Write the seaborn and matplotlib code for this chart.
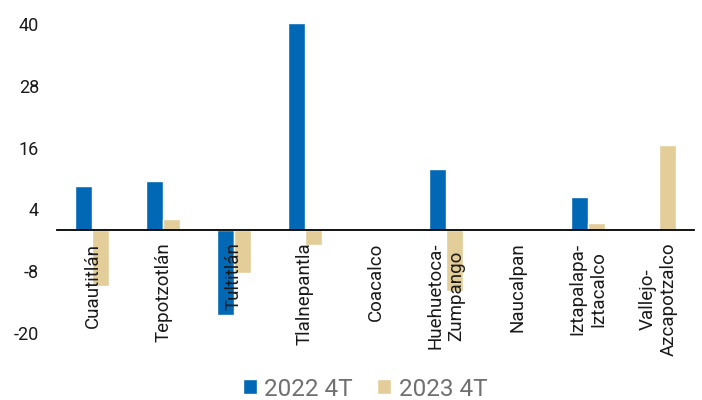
import matplotlib
matplotlib.use("Agg")
import matplotlib.pyplot as plt
import seaborn as sns
import pandas as pd

categories = ["Cuautitlán", "Tepotzotlán", "Tultitlán", "Tlalnepantla", "Coacalco",
              "Huehuetoca-\nZumpango", "Naucalpan", "Iztapalapa-\nIztacalco", "Vallejo-\nAzcapotzalco"]
series_names = ["2022 4T", "2023 4T"]
values_2022 = [8.5, 9.6, -16.6, 40.2, 0.0, 11.8, 0.0, 6.4, 0.0]
values_2023 = [-10.8, 2.2, -8.3, -3.0, 0.0, -11.8, 0.0, 1.4, 16.6]
yticks = [-20, -8, 4, 16, 28, 40]

colors = ["#0068b4", "#e3cd98"]

df = pd.DataFrame({
    "cat": categories * 2,
    "val": values_2022 + values_2023,
    "serie": [series_names[0]] * len(categories) + [series_names[1]] * len(categories),
})

sns.set_style("white")
plt.rcParams["font.family"] = ["Roboto", "DejaVu Sans"]

fig = plt.figure(figsize=(7.02, 4.00), dpi=100)
ax = fig.add_axes([57 / 702, 1 - 333 / 400, 637 / 702, (333 - 18.9) / 400])

sns.barplot(data=df, x="cat", y="val", hue="serie", order=categories,
            hue_order=series_names, palette=colors, width=0.48, saturation=1,
            gap=0, ax=ax, legend=True)

ax.set_xlim(-0.5, len(categories) - 0.5)
ax.set_ylim(-20, 41)
ax.set_yticks(yticks)
ax.set_yticklabels([str(t) for t in yticks], fontsize=13, color="#1a1a1a")
ax.set_xlabel("")
ax.set_ylabel("")

for s in ["top", "right", "left"]:
    ax.spines[s].set_visible(False)
ax.spines["bottom"].set_position(("data", 0))
ax.spines["bottom"].set_color("black")
ax.spines["bottom"].set_linewidth(1.3)
ax.set_axisbelow(False)

ax.tick_params(axis="x", length=0, pad=9, labelsize=13.5, labelcolor="#1a1a1a")
ax.tick_params(axis="y", length=0, pad=13)
for lbl in ax.get_xticklabels():
    lbl.set_rotation(90)
    lbl.set_multialignment("center")

leg = ax.get_legend()
handles = leg.legend_handles
leg.remove()
fig.legend(handles, series_names, loc="center", bbox_to_anchor=(365 / 702, 1 - 389 / 400),
           ncol=2, frameon=False, fontsize=17.5, labelcolor="#707070",
           handlelength=0.58, handleheight=0.58, handletextpad=0.3, columnspacing=1.0,
           borderpad=0, borderaxespad=0)

fig.savefig("out.png", dpi=100)
